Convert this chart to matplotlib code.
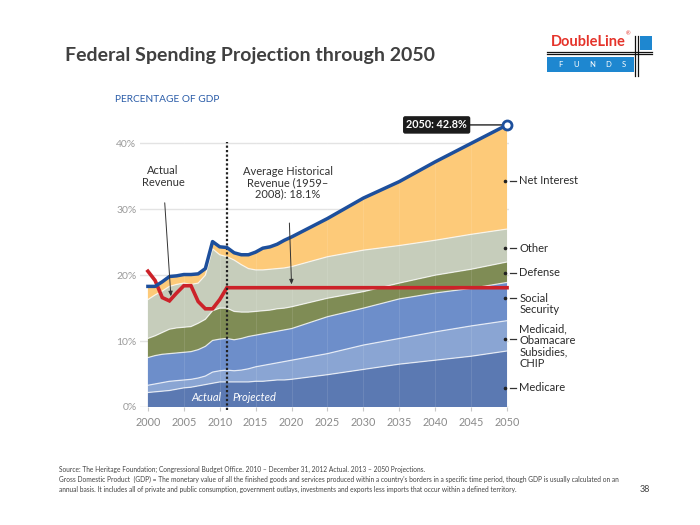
import matplotlib
matplotlib.use("Agg")
import matplotlib.pyplot as plt
from matplotlib.patches import Rectangle
import numpy as np

# ---------------- data (percent of GDP) ----------------
years = [2000, 2001, 2002, 2003, 2004, 2005, 2006, 2007, 2008, 2009, 2010,
         2011, 2012, 2013, 2014, 2015, 2016, 2017, 2018, 2019, 2020,
         2025, 2030, 2035, 2040, 2045, 2050]
medicare = [2.2, 2.3, 2.4, 2.5, 2.7, 2.9, 3.0, 3.2, 3.4, 3.6, 3.8,
            3.8, 3.8, 3.8, 3.8, 3.9, 3.9, 4.0, 4.1, 4.1, 4.2,
            4.9, 5.7, 6.5, 7.1, 7.7, 8.5]
medicaid = [1.1, 1.2, 1.3, 1.4, 1.3, 1.2, 1.2, 1.2, 1.3, 1.7, 1.7,
            1.8, 1.7, 1.8, 2.0, 2.2, 2.4, 2.5, 2.6, 2.8, 2.9,
            3.2, 3.7, 3.9, 4.3, 4.6, 4.6]
social_security = [4.2, 4.3, 4.3, 4.2, 4.2, 4.2, 4.2, 4.3, 4.5, 4.8, 4.8,
                   4.8, 4.7, 4.8, 4.9, 4.8, 4.8, 4.8, 4.8, 4.8, 4.8,
                   5.6, 5.6, 6.0, 5.9, 5.7, 5.8]
defense = [2.9, 3.0, 3.3, 3.7, 3.8, 3.8, 3.8, 4.0, 4.1, 4.5, 4.7,
           4.6, 4.3, 4.0, 3.7, 3.6, 3.5, 3.4, 3.4, 3.3, 3.3,
           2.8, 2.5, 2.4, 2.7, 2.9, 3.1]
other = [5.9, 6.2, 6.3, 6.5, 6.6, 6.7, 6.4, 6.1, 6.7, 9.4, 8.1,
         7.8, 7.8, 7.2, 6.6, 6.3, 6.2, 6.2, 6.1, 6.1, 6.1,
         6.3, 6.3, 5.7, 5.3, 5.3, 5.0]
net_interest = [2.0, 1.3, 1.4, 1.5, 1.3, 1.3, 1.5, 1.4, 1.0, 1.1, 1.2,
                1.4, 1.1, 1.5, 2.1, 2.7, 3.3, 3.4, 3.7, 4.2, 4.5,
                5.8, 7.9, 9.7, 11.9, 13.8, 15.8]

rev_years = [2000, 2001, 2002, 2003, 2004, 2005, 2006, 2007, 2008, 2009,
             2010, 2011, 2050]
revenue = [20.6, 19.2, 16.6, 16.1, 17.3, 18.4, 18.4, 16.0, 14.9, 14.9,
           16.3, 18.1, 18.1]

layer_names = ["Medicare", "Medicaid,\nObamacare\nSubsidies,\nCHIP",
               "Social\nSecurity", "Defense", "Other", "Net Interest"]
layer_colors = ["#5b79b2", "#8aa5d3", "#6d8eca", "#7f8c55", "#c6cdbb", "#fdca79"]
y_ticks = [0, 10, 20, 30, 40]
x_ticks = list(range(2000, 2051, 5))
actual_end = 2011

# ---------------- figure ----------------
plt.rcParams['font.family'] = ['Lato', 'DejaVu Sans']
fig = plt.figure(figsize=(7, 5.25), dpi=100)
W, H = 700, 525

def fx(px):
    return px / W

def fy(py):
    return 1 - py / H

ax = fig.add_axes([fx(140), fy(407), fx(509.2) - fx(140), fy(123.6) - fy(407)])
ax.set_xlim(1998.9, 2050.3)
ax.set_ylim(0, 43)

series = [medicare, medicaid, social_security, defense, other, net_interest]
yrs = np.array(years, dtype=float)
stack = np.vstack([np.array(s, dtype=float) for s in series])
ax.stackplot(yrs, stack, colors=layer_colors, zorder=2,
             edgecolor="none", linewidth=0)
cum = np.cumsum(stack, axis=0)
for i in range(len(series) - 1):
    ax.plot(yrs, cum[i], color="white", lw=0.9, alpha=0.75, zorder=3)
total = cum[-1]

# faint vertical band lines
for xt in x_ticks[1:-1]:
    ax.axvline(xt, color="white", lw=0.6, alpha=0.12, zorder=3)

# gridlines
for yt in y_ticks:
    ax.axhline(yt, color="#e3e3e3" if yt else "#cfcfcf", lw=1.0, zorder=1)

# dotted actual/projected divider
ax.plot([actual_end, actual_end], [-0.5, 40.2], color="#222222", lw=1.6,
        ls=(0, (1, 1)), zorder=6, clip_on=False)

# revenue line
ax.plot(rev_years, revenue, color="#cc2229", lw=2.6, zorder=5,
        solid_joinstyle="miter")
# total spending line
ax.plot(yrs, total, color="#1d4f9c", lw=2.5, zorder=7, solid_joinstyle="round")
ax.plot([years[-1]], [total[-1]], marker="o", ms=6.5, mfc="white",
        mec="#1d4f9c", mew=2, zorder=9, clip_on=False)

# callout
ax.annotate("", xy=(years[-1] - 0.3, total[-1]), xytext=(2043.8, total[-1]),
            arrowprops=dict(arrowstyle="-", color="#222222", lw=1.0), zorder=8)
ax.text(2040.2, total[-1], "2050: %.1f%%" % total[-1], color="white",
        fontsize=7.8, fontweight="bold", ha="center", va="center", zorder=9,
        bbox=dict(boxstyle="round,pad=0.3,rounding_size=0.2", fc="#1c1c1c",
                  ec="none"))

# axes styling
for s in ax.spines.values():
    s.set_visible(False)
ax.set_yticks(y_ticks)
ax.set_yticklabels(["%d%%" % v for v in y_ticks])
ax.set_xticks(x_ticks)
ax.set_xticklabels([str(v) for v in x_ticks])
ax.tick_params(axis="y", length=0, pad=2.5, labelsize=7.5, labelcolor="#9a9a9a")
ax.tick_params(axis="x", length=3, width=0.8, color="#c8c8c8", pad=4,
               labelsize=7.8, labelcolor="#8a8a8a")

# annotations
ax.annotate("Actual\nRevenue", xy=(2003.2, 16.8), xytext=(2002.1, 35.0),
            ha="center", va="center", fontsize=8, color="#333333",
            linespacing=1.05,
            arrowprops=dict(arrowstyle="-|>,head_length=0.35,head_width=0.15",
                            color="#333333", lw=0.7, shrinkA=9, shrinkB=0),
            zorder=10)
ax.annotate("Average Historical\nRevenue (1959\u2013\n2008): 18.1%",
            xy=(2020.0, 18.6), xytext=(2019.5, 34.0),
            ha="center", va="center", fontsize=8, color="#333333",
            linespacing=1.0,
            arrowprops=dict(arrowstyle="-|>,head_length=0.35,head_width=0.15",
                            color="#333333", lw=0.7, shrinkA=15, shrinkB=0),
            zorder=10)

ax.text(2010.2, 1.5, "Actual", color="white", fontsize=8, style="italic",
        ha="right", va="center", zorder=10)
ax.text(2011.8, 1.5, "Projected", color="white", fontsize=8, style="italic",
        ha="left", va="center", zorder=10)

# right-hand legend labels
label_pos = [(2.9, 2.9), (10.3, 9.2), (16.5, 15.6), (20.4, 20.4),
             (24.1, 24.1), (34.3, 34.3)]
for name, (ydot, ytxt) in zip(layer_names, label_pos):
    ax.plot([2049.7], [ydot], marker="o", ms=1.6, color="#222222",
            zorder=10, clip_on=False)
    ax.plot([2050.4, 2051.3], [ydot, ydot], color="#333333", lw=0.9,
            zorder=10, clip_on=False)
    ax.text(2051.7, ytxt, name, fontsize=8, color="#2b2b2b", ha="left",
            va="center", linespacing=1.05, clip_on=False)

# ---------------- page furniture ----------------
fig.text(fx(65), fy(55), "Federal Spending Projection through 2050",
         fontsize=14, fontweight="bold", color="#404040", ha="left",
         va="center")
fig.text(fx(115), fy(100), "PERCENTAGE OF GDP", fontsize=7.3, color="#2a5ca8",
         ha="left", va="center")

# logo
fig.text(fx(551), fy(42), "DoubleLine", fontsize=10.5, fontweight="bold",
         color="#e5332a", ha="left", va="center")
fig.text(fx(626), fy(34), "\u00ae", fontsize=4, color="#e5332a", ha="left",
         va="center")
fig.patches.append(Rectangle((fx(547), fy(71.7)), fx(633.5) - fx(547),
                             fy(56.7) - fy(71.7), transform=fig.transFigure,
                             fc="#1e87d0", ec="none", zorder=1))
fig.patches.append(Rectangle((fx(640), fy(50)), fx(652) - fx(640),
                             fy(36) - fy(50), transform=fig.transFigure,
                             fc="#1e87d0", ec="none", zorder=1))
for yy in (51.7, 54.3):
    fig.lines.append(plt.Line2D([fx(547), fx(652)], [fy(yy), fy(yy)],
                                transform=fig.transFigure, color="#111111",
                                lw=0.9, zorder=2))
for xx in (635.3, 637.8):
    fig.lines.append(plt.Line2D([fx(xx), fx(xx)], [fy(36), fy(76)],
                                transform=fig.transFigure, color="#111111",
                                lw=0.9, zorder=2))
for i, ch in enumerate("FUNDS"):
    fig.text(fx(560 + i * 16), fy(64.5), ch, fontsize=5.5, color="white",
             ha="center", va="center")

foot = ["Source: The Heritage Foundation; Congressional Budget Office. 2010 \u2013 December 31, 2012 Actual. 2013 \u2013 2050 Projections.",
        "Gross Domestic Product  (GDP) = The monetary value of all the finished goods and services produced within a country's borders in a specific time period, though GDP is usually calculated on an",
        "annual basis. It includes all of private and public consumption, government outlays, investments and exports less imports that occur within a defined territory."]
for i, line in enumerate(foot):
    fig.text(fx(59), fy(469 + i * 10.3), line, fontsize=4.75, color="#444444",
             ha="left", va="center")
fig.text(fx(645), fy(489), "38", fontsize=6.5, color="#444444", ha="center",
         va="center")

fig.savefig("out.png", dpi=100)
